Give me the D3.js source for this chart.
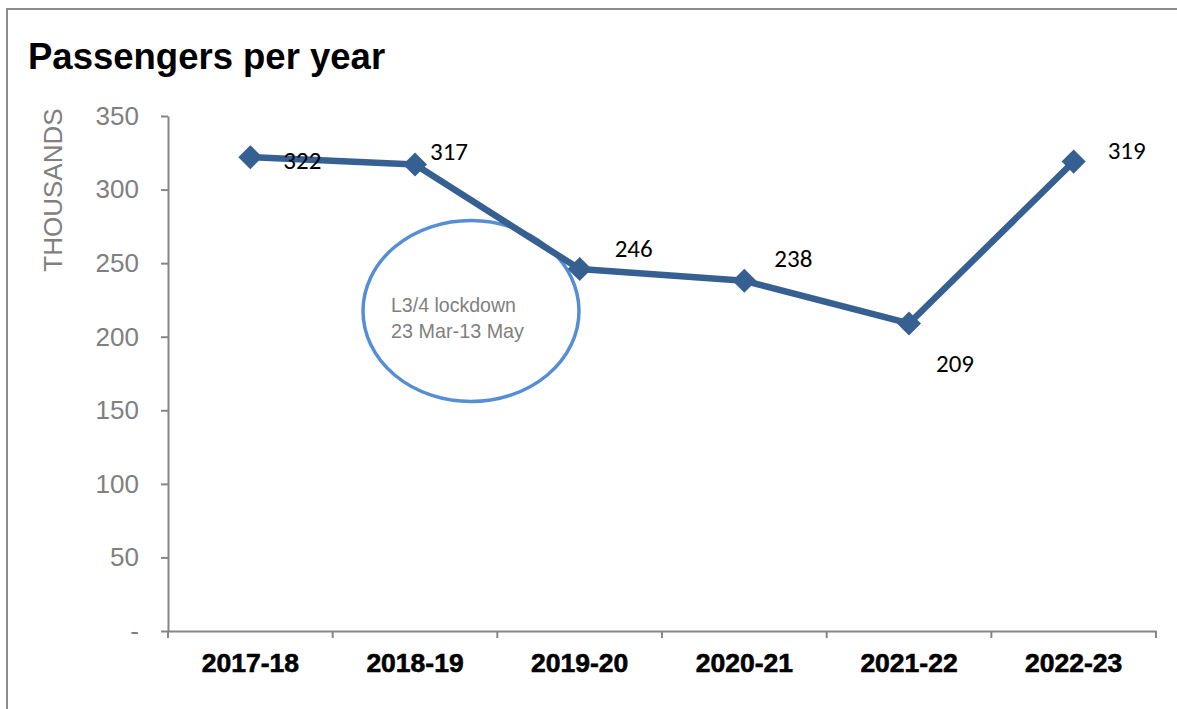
<!DOCTYPE html>
<html><head><meta charset="utf-8">
<script src="https://cdn.jsdelivr.net/npm/d3@7"></script>
<style>body{margin:0;background:#fff}svg{display:block}</style>
</head><body>
<svg id="c" width="1177" height="709"></svg>
<script>
const categories = ["2017-18","2018-19","2019-20","2020-21","2021-22","2022-23"];
const passengers = [322,317,246,238,209,319];
const yTicks = [0,50,100,150,200,250,300,350];
const yTickLabels = ["-","50","100","150","200","250","300","350"];
const titleText = "Passengers per year";
const yAxisTitle = "THOUSANDS";
const annotationLines = ["L3/4 lockdown","23 Mar-13 May"];
// label offsets (dx, dy) relative to each point
const labelOffsets = [[33,3],[15,-13],[35,-21],[30,-23],[27,40],[34,-11]];

const svg = d3.select("#c");
const m = {left:168, right:1156, top:116, bottom:631};
const x = d3.scaleBand().domain(categories).range([m.left,m.right]);
const y = d3.scaleLinear().domain([0,350]).range([m.bottom,m.top]);

// frame
svg.append("rect").attr("x",7).attr("y",9).attr("width",1190).attr("height",720)
  .attr("fill","none").attr("stroke","#8c8c8c").attr("stroke-width",2);

svg.append("text").attr("x",28).attr("y",69).text(titleText)
  .attr("font-family","Liberation Sans, Arial").attr("font-weight","bold").attr("font-size",36.5).attr("fill","#000");

// y axis
const ya = svg.append("g").attr("transform",`translate(${m.left},0)`)
  .call(d3.axisLeft(y).tickValues(yTicks).tickFormat((d,i)=>yTickLabels[i]).tickSize(7).tickSizeOuter(0).tickPadding(22));
ya.select(".domain").attr("stroke","#868686").attr("stroke-width",2);
ya.selectAll(".tick line").attr("stroke","#868686").attr("stroke-width",2);
ya.selectAll(".tick text").attr("font-family","Liberation Sans, Arial").attr("font-size",26).attr("fill","#808080");

svg.append("text").attr("transform",`translate(${53},${190}) rotate(-90)`).attr("text-anchor","middle")
  .attr("dy","0.35em").text(yAxisTitle)
  .attr("font-family","Liberation Sans, Arial").attr("font-size",26).attr("fill","#808080");

// x axis
const xa = svg.append("g").attr("transform",`translate(0,${m.bottom})`)
  .call(d3.axisBottom(x).tickSize(0).tickSizeOuter(0).tickPadding(22));
xa.select(".domain").attr("stroke","#868686").attr("stroke-width",2);
xa.selectAll(".tick text").attr("font-family","Liberation Sans, Arial").attr("font-weight","bold")
  .attr("font-size",26.5).attr("fill","#000").attr("stroke","#000").attr("stroke-width",0.6);
// band boundary ticks
const bounds = categories.map(c=>x(c)).concat([m.right]);
svg.append("g").selectAll("line").data(bounds).join("line")
  .attr("x1",d=>d).attr("x2",d=>d).attr("y1",m.bottom).attr("y2",m.bottom+7)
  .attr("stroke","#868686").attr("stroke-width",2);

// annotation ellipse
svg.append("ellipse").attr("cx",471).attr("cy",311).attr("rx",108).attr("ry",90.5)
  .attr("fill","none").attr("stroke","#558ed5").attr("stroke-width",3.5);
const annW = [125,133];
svg.append("g").selectAll("text").data(annotationLines).join("text")
  .attr("x",391).attr("y",(d,i)=>312+i*26).text(d=>d)
  .attr("textLength",(d,i)=>annW[i]).attr("lengthAdjust","spacingAndGlyphs")
  .attr("font-family","Liberation Sans, Arial").attr("font-size",21).attr("fill","#808080");

// line
const cx = d=>x(d)+x.bandwidth()/2;
const pts = categories.map((c,i)=>[cx(c), y(passengers[i])]);
svg.append("path").datum(pts).attr("d",d3.line())
  .attr("fill","none").attr("stroke","#376092").attr("stroke-width",6.5).attr("stroke-linejoin","round");
svg.append("g").selectAll("path").data(pts).join("path")
  .attr("transform",d=>`translate(${d[0]},${d[1]}) rotate(45)`)
  .attr("d","M-8.5,-8.5H8.5V8.5H-8.5Z").attr("fill","#376092");

// labels
svg.append("g").selectAll("text").data(passengers).join("text")
  .attr("x",(d,i)=>pts[i][0]+labelOffsets[i][0]).attr("y",(d,i)=>pts[i][1]+labelOffsets[i][1])
  .attr("dy","0.35em").text(d=>d)
  .attr("font-family","Carlito, Open Sans, Noto Sans").attr("font-size",25).attr("fill","#000");
</script>
</body></html>
